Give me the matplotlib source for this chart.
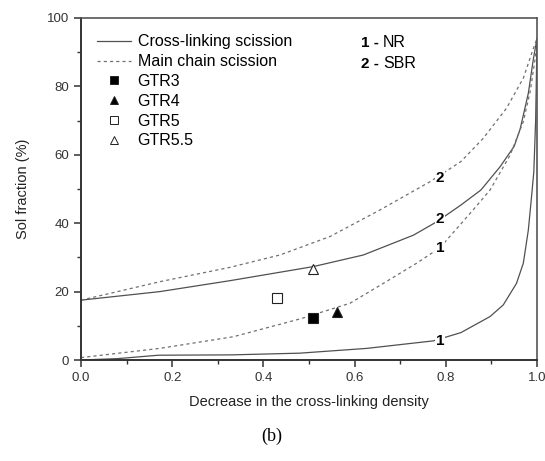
import matplotlib
matplotlib.use("Agg")
import matplotlib.pyplot as plt
from matplotlib.lines import Line2D
from matplotlib.ticker import MultipleLocator

plt.rcParams['font.family'] = ['Liberation Sans', 'DejaVu Sans']

# NR (1) and SBR (2) curves
nr_cross_x = [0.0, 0.08, 0.17, 0.33, 0.48, 0.627, 0.773, 0.833, 0.897, 0.926, 0.955, 0.970, 0.981, 0.988, 0.993, 0.997, 1.0]
nr_cross_y = [0.0, 0.4, 1.4, 1.5, 2.0, 3.4, 5.6, 8.0, 12.7, 16.1, 22.4, 28.3, 38.0, 47.7, 55.0, 70.0, 93.0]

nr_main_x = [0.0, 0.173, 0.334, 0.48, 0.59, 0.663, 0.736, 0.787, 0.86, 0.897, 0.941, 0.970, 0.985, 0.996, 1.0]
nr_main_y = [0.7, 3.4, 6.8, 12.0, 16.6, 22.4, 28.3, 32.8, 43.9, 49.7, 59.9, 69.7, 78.5, 88.2, 93.0]

sbr_cross_x = [0.0, 0.173, 0.327, 0.509, 0.619, 0.729, 0.78, 0.833, 0.877, 0.919, 0.95, 0.963, 0.981, 0.992, 1.0]
sbr_cross_y = [17.5, 20.0, 23.2, 27.3, 30.7, 36.5, 40.4, 45.3, 49.7, 56.5, 62.5, 67.5, 78.0, 88.0, 94.0]

sbr_main_x = [0.0, 0.173, 0.327, 0.436, 0.546, 0.656, 0.765, 0.833, 0.882, 0.933, 0.970, 0.992, 1.0]
sbr_main_y = [17.5, 22.9, 27.1, 30.7, 36.1, 43.9, 52.1, 58.0, 64.8, 73.6, 82.4, 91.1, 94.0]

# GTR samples
gtr_names = ['GTR3', 'GTR4', 'GTR5', 'GTR5.5']
gtr_x = [0.509, 0.561, 0.43, 0.509]
gtr_y = [12.2, 13.9, 18.2, 26.5]

# curve number labels: (text, x, y)
curve_labels = [('2', 0.787, 53.3), ('2', 0.787, 41.2), ('1', 0.787, 32.8), ('1', 0.787, 5.6)]

fig = plt.figure(figsize=(5.45, 4.61), dpi=100)
ax = fig.add_axes([81/545, 1 - 360/461, 456/545, 342/461])

solid_c = '#505050'
dash_c = '#707070'
ax.plot(nr_cross_x, nr_cross_y, color=solid_c, lw=0.9)
ax.plot(sbr_cross_x, sbr_cross_y, color=solid_c, lw=0.9)
ax.plot(nr_main_x, nr_main_y, color=dash_c, lw=0.9, ls=(0, (2.5, 2.5)))
ax.plot(sbr_main_x, sbr_main_y, color=dash_c, lw=0.9, ls=(0, (2.5, 2.5)))

styles = [('s', 'black'), ('^', 'black'), ('s', 'white'), ('^', 'white')]
for i in range(len(gtr_names)):
    m, fc = styles[i]
    ax.plot(gtr_x[i], gtr_y[i], marker=m, ms=7, mfc=fc, mec='#222222', mew=0.8, ls='none')

for t, x, y in curve_labels:
    ax.text(x, y, t, fontsize=11, fontweight='bold', ha='center', va='center',
            bbox=dict(facecolor='white', edgecolor='none', pad=0.5))

# legend
handles = [Line2D([], [], color=solid_c, lw=0.9),
           Line2D([], [], color=dash_c, lw=0.9, ls=(0, (2.5, 2.5)))]
for m, fc in styles:
    handles.append(Line2D([], [], marker=m, ms=5.5, mfc=fc, mec='#222222', mew=0.7, ls='none'))
labels = ['Cross-linking scission', 'Main chain scission'] + gtr_names
ax.legend(handles, labels, loc='upper left', bbox_to_anchor=(0.035, 0.952), frameon=False,
          fontsize=11.5, handlelength=2.1, handletextpad=0.45, labelspacing=0.3,
          borderpad=0, borderaxespad=0)

ax.text(0.615, 0.928, '1 -', transform=ax.transAxes, fontsize=11, fontweight='bold', va='center')
ax.text(0.662, 0.928, 'NR', transform=ax.transAxes, fontsize=11.5, va='center')
ax.text(0.615, 0.866, '2 -', transform=ax.transAxes, fontsize=11, fontweight='bold', va='center')
ax.text(0.662, 0.866, 'SBR', transform=ax.transAxes, fontsize=11.5, va='center')

ax.set_xlim(0, 1)
ax.set_ylim(0, 100)
ax.xaxis.set_minor_locator(MultipleLocator(0.1))
ax.yaxis.set_major_locator(MultipleLocator(20))
ax.yaxis.set_minor_locator(MultipleLocator(10))
ax.set_xticks([0.0, 0.2, 0.4, 0.6, 0.8, 1.0])
ax.set_xticklabels(['0.0', '0.2', '0.4', '0.6', '0.8', '1.0'])
ax.tick_params(which='major', direction='out', length=5, width=1.1, labelsize=9.5, colors='#333333')
ax.tick_params(which='minor', direction='out', length=3, width=1.0, colors='#333333')

for s in ['left', 'bottom']:
    ax.spines[s].set_color('#333333')
    ax.spines[s].set_linewidth(1.4)
for s in ['top', 'right']:
    ax.spines[s].set_color('#555555')
    ax.spines[s].set_linewidth(1.2)

ax.set_xlabel('Decrease in the cross-linking density', fontsize=10.5, color='#222222', labelpad=8)
ax.set_ylabel('Sol fraction (%)', fontsize=10.5, color='#222222', labelpad=12)

fig.text(272/545, 1 - 436/461, '(b)', fontsize=13, family='Liberation Serif', ha='center', va='center')

fig.savefig('out.png', dpi=100)
